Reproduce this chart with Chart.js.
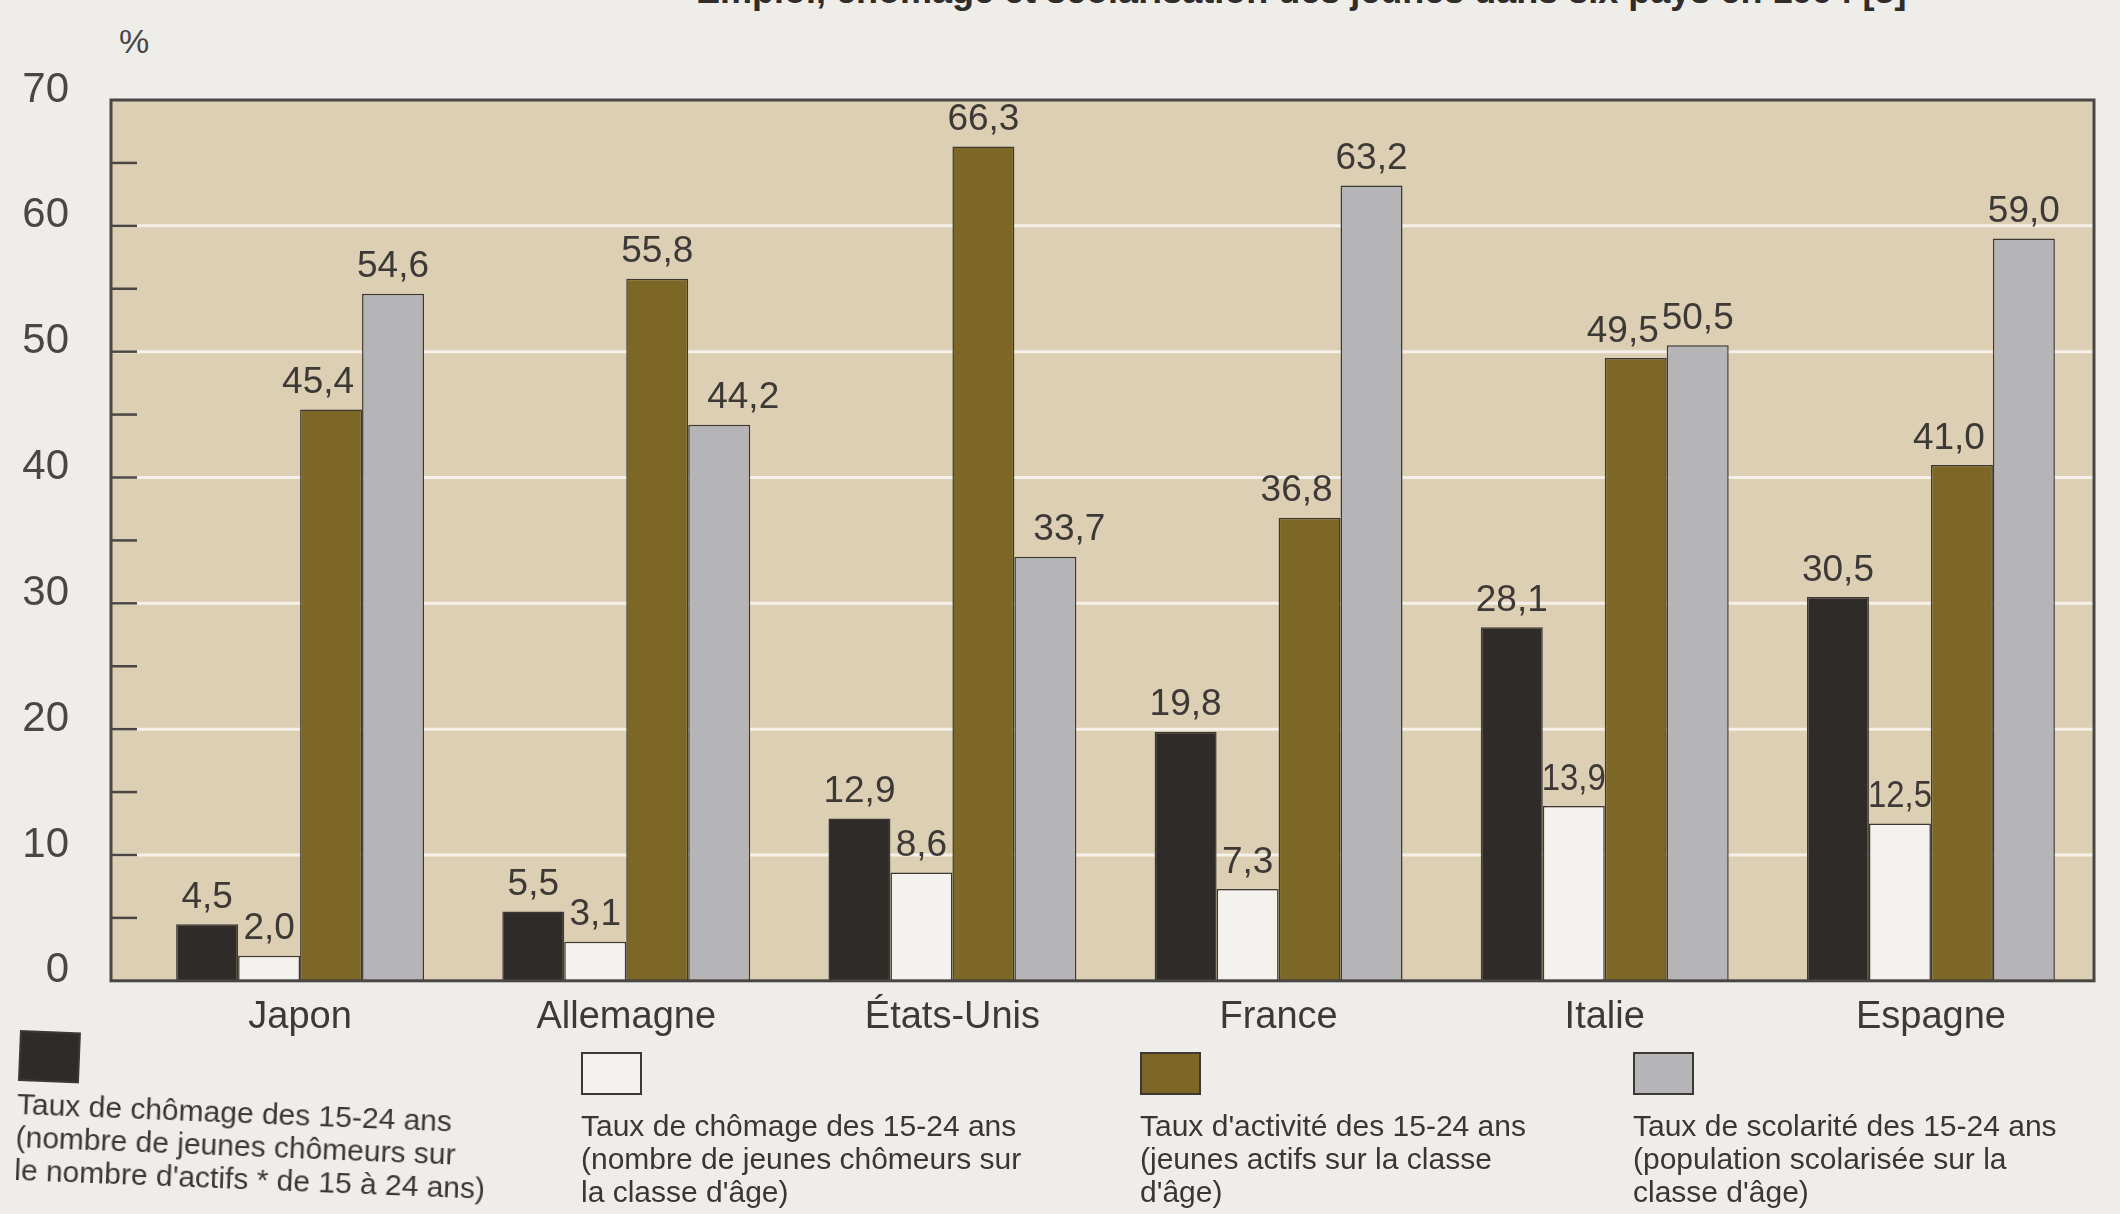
<!DOCTYPE html>
<html lang="fr">
<head>
<meta charset="utf-8">
<title>Emploi, chômage et scolarisation des jeunes</title>
<script src="https://cdn.jsdelivr.net/npm/chart.js@4.4.1/dist/chart.umd.min.js"></script>
<style>
    html, body { margin: 0; padding: 0; }
    body {
        width: 2120px;
        height: 1214px;
        overflow: hidden;
        position: relative;
        background: #eeedea;
        font-family: 'Liberation Sans', Arial, sans-serif;
        color: #3a3634;
    }
    #title {
        position: absolute;
        left: 696px;
        top: -30px;
        font-size: 36px;
        font-weight: bold;
        white-space: nowrap;
        color: #2f2c2a;
    }
    #unit {
        position: absolute;
        left: 119px;
        top: 22px;
        font-size: 34px;
        color: #4a4644;
    }
    #chart { position: absolute; left: 0; top: 0; }
    .legend-item { position: absolute; }
    .legend-swatch {
        box-sizing: border-box;
        width: 61px;
        height: 43px;
        border: 2px solid #3d3834;
    }
    .legend-text {
        font-size: 30px;
        line-height: 33px;
        white-space: nowrap;
    }
</style>
</head>
<body>
<div id="title">Emploi, chômage et scolarisation des jeunes dans six pays en 1994 [3]</div>
<div id="unit">%</div>
<canvas id="chart" width="2120" height="1074"></canvas>
<div id="legend"></div>

<script>
// ---- Data ----
const countries     = ['Japon', 'Allemagne', 'États-Unis', 'France', 'Italie', 'Espagne'];
const chomageActifs = [4.5, 5.5, 12.9, 19.8, 28.1, 30.5];
const chomageClasse = [2.0, 3.1, 8.6, 7.3, 13.9, 12.5];
const activite      = [45.4, 55.8, 66.3, 36.8, 49.5, 41.0];
const scolarite     = [54.6, 44.2, 33.7, 63.2, 50.5, 59.0];

const seriesNames = [
    'Taux de chômage des 15-24 ans (actifs)',
    'Taux de chômage des 15-24 ans (classe d\'âge)',
    'Taux d\'activité des 15-24 ans',
    'Taux de scolarité des 15-24 ans'
];
const legendLines = [
    ['Taux de chômage des 15-24 ans', '(nombre de jeunes chômeurs sur', 'le nombre d\'actifs * de 15 à 24 ans)'],
    ['Taux de chômage des 15-24 ans', '(nombre de jeunes chômeurs sur', 'la classe d\'âge)'],
    ['Taux d\'activité des 15-24 ans', '(jeunes actifs sur la classe', 'd\'âge)'],
    ['Taux de scolarité des 15-24 ans', '(population scolarisée sur la', 'classe d\'âge)']
];

// ---- Style ----
const fills      = ['#2e2b29', '#f3f2ee', '#7c6727', '#b5b4b6'];
const outline    = '#3d3834';
const plotFill   = '#ddcfb3';
const inkColor   = '#3d3936';
const fontFamily = "'Liberation Sans', Arial, sans-serif";
const FRAME_EXTRA = 26;   // frame starts a bit left of the first category band
const MINOR_STEP  = 5;

// legend positions (left, top), swatch sizes, gap before text
const legendBoxes = [
    { left: 20,   top: 1030, w: 61, h: 51, gap: 6,  tilt: 2.3 },
    { left: 581,  top: 1052, w: 61, h: 43, gap: 14, tilt: 0 },
    { left: 1140, top: 1052, w: 61, h: 43, gap: 14, tilt: 0 },
    { left: 1633, top: 1052, w: 61, h: 43, gap: 14, tilt: 0 }
];

function fmt(v) {
    return v.toFixed(1).replace('.', ',');
}

// label placement: nudge away from a taller neighbour, squeeze between two
function labelPlacement(prev, v, next) {
    const prevTaller = prev > v;
    const nextTaller = next > v;
    if (prevTaller && nextTaller) return { dx: 0, squeeze: true };
    if (prevTaller) return { dx: 24, squeeze: false };
    if (nextTaller) return { dx: -13, squeeze: false };
    return { dx: 0, squeeze: false };
}

// ---- Frame, grid and value labels ----
const plotFrame = {
    id: 'plotFrame',
    beforeDatasetsDraw(chart) {
        const { ctx, chartArea: a, scales: { y } } = chart;
        const left = a.left - FRAME_EXTRA;
        ctx.save();
        ctx.fillStyle = plotFill;
        ctx.fillRect(left, a.top, a.right - left, a.bottom - a.top);
        ctx.strokeStyle = 'rgba(255,255,255,0.7)';
        ctx.lineWidth = 3;
        y.ticks.forEach(t => {
            if (t.value <= y.min || t.value >= y.max) return;
            const py = y.getPixelForValue(t.value);
            ctx.beginPath();
            ctx.moveTo(left, py);
            ctx.lineTo(a.right, py);
            ctx.stroke();
        });
        ctx.restore();
    },
    afterDatasetsDraw(chart) {
        const { ctx, chartArea: a, scales: { y } } = chart;
        const left = a.left - FRAME_EXTRA;
        ctx.save();
        // outer frame
        ctx.strokeStyle = '#4a4643';
        ctx.lineWidth = 3;
        ctx.strokeRect(left, a.top, a.right - left, a.bottom - a.top);
        // inward tick marks every 5 %
        ctx.lineWidth = 2.5;
        for (let v = y.min + MINOR_STEP; v < y.max; v += MINOR_STEP) {
            const py = y.getPixelForValue(v);
            ctx.beginPath();
            ctx.moveTo(left, py);
            ctx.lineTo(left + 26, py);
            ctx.stroke();
        }
        // value labels above each bar
        const sets = chart.data.datasets;
        ctx.fillStyle = inkColor;
        ctx.font = `37px ${fontFamily}`;
        ctx.textAlign = 'center';
        ctx.textBaseline = 'bottom';
        sets.forEach((ds, di) => {
            chart.getDatasetMeta(di).data.forEach((bar, i) => {
                const v = ds.data[i];
                const prev = sets[di - 1] ? sets[di - 1].data[i] : 0;
                const next = sets[di + 1] ? sets[di + 1].data[i] : 0;
                const place = labelPlacement(prev, v, next);
                const text = fmt(v);
                const w = ctx.measureText(text).width;
                const sx = place.squeeze ? Math.min(1, (bar.width + 2) / w) : 1;
                ctx.save();
                ctx.translate(bar.x + place.dx, bar.y - 8);
                ctx.scale(sx, 1);
                ctx.fillText(text, 0, 0);
                ctx.restore();
            });
        });
        ctx.restore();
    }
};

// ---- Chart ----
const allSeries = [chomageActifs, chomageClasse, activite, scolarite];

new Chart(document.getElementById('chart'), {
    type: 'bar',
    data: {
        labels: countries,
        datasets: allSeries.map((values, i) => ({
            label: seriesNames[i],
            data: values,
            backgroundColor: fills[i],
            borderColor: outline,
            borderWidth: 1.5,
            categoryPercentage: 0.76,
            barPercentage: 1.0
        }))
    },
    options: {
        responsive: false,
        animation: false,
        devicePixelRatio: 1,
        layout: { padding: { top: 100, right: 26, bottom: 0, left: 0 } },
        plugins: {
            legend: { display: false },
            tooltip: { enabled: false }
        },
        scales: {
            x: {
                grid: { display: false, drawTicks: false },
                border: { display: false },
                ticks: {
                    color: inkColor,
                    font: { family: fontFamily, size: 38 },
                    padding: 14
                },
                afterFit(scale) { scale.height = 60; }
            },
            y: {
                min: 0,
                max: 70,
                grid: { display: false, drawTicks: false },
                border: { display: false },
                ticks: {
                    stepSize: 10,
                    color: '#4a4644',
                    font: { family: fontFamily, size: 42 },
                    padding: 68,
                    labelOffset: -10
                },
                afterFit(scale) { scale.width = 137; }
            }
        }
    },
    plugins: [plotFrame]
});

// ---- Legend ----
const legendEl = document.getElementById('legend');
legendLines.forEach((lines, i) => {
    const box = legendBoxes[i];
    const item = document.createElement('div');
    item.className = 'legend-item';
    item.style.left = box.left + 'px';
    item.style.top = box.top + 'px';
    if (box.tilt) {
        item.style.transformOrigin = 'left top';
        item.style.transform = `rotate(${box.tilt}deg)`;
    }
    const sw = document.createElement('div');
    sw.className = 'legend-swatch';
    sw.style.width = box.w + 'px';
    sw.style.height = box.h + 'px';
    sw.style.background = fills[i];
    const txt = document.createElement('div');
    txt.className = 'legend-text';
    txt.style.marginTop = box.gap + 'px';
    txt.innerHTML = lines.join('<br>');
    item.appendChild(sw);
    item.appendChild(txt);
    legendEl.appendChild(item);
});
</script>
</body>
</html>
